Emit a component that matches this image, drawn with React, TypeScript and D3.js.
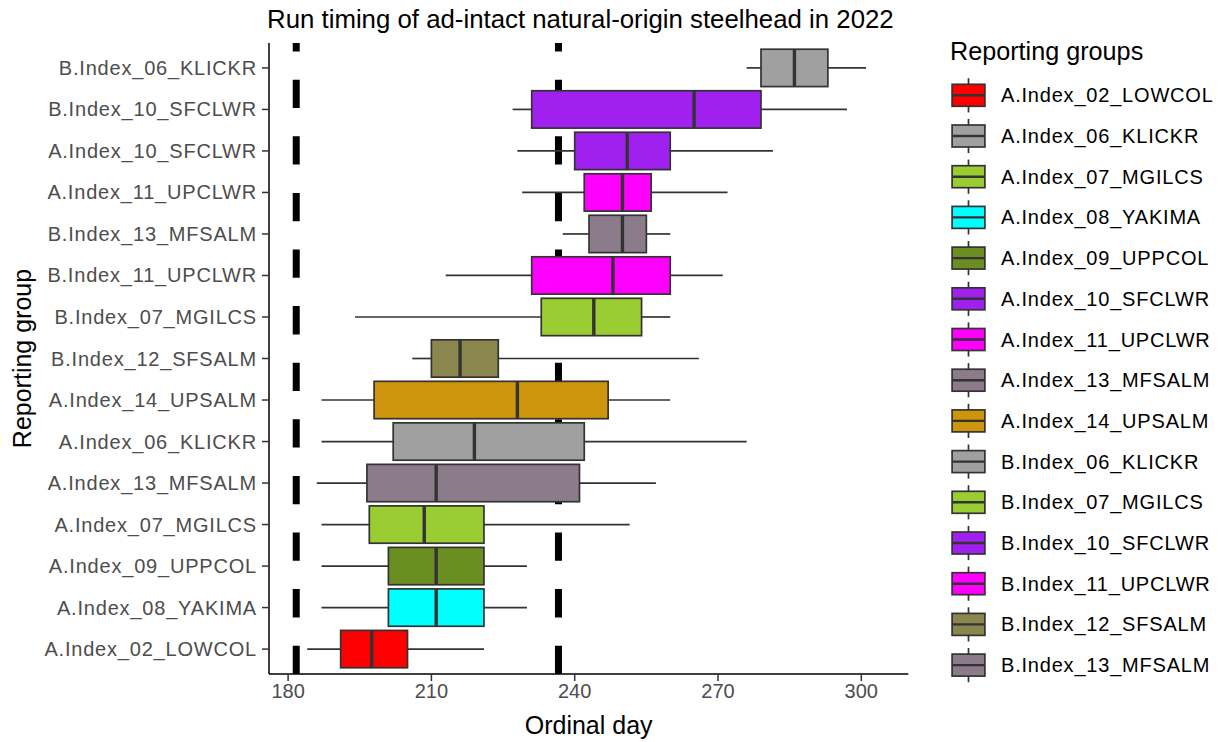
import React from "react";
import * as d3 from "d3";

// Reporting groups, top to bottom on the y axis
const categories = [
  "B.Index_06_KLICKR",
  "B.Index_10_SFCLWR",
  "A.Index_10_SFCLWR",
  "A.Index_11_UPCLWR",
  "B.Index_13_MFSALM",
  "B.Index_11_UPCLWR",
  "B.Index_07_MGILCS",
  "B.Index_12_SFSALM",
  "A.Index_14_UPSALM",
  "A.Index_06_KLICKR",
  "A.Index_13_MFSALM",
  "A.Index_07_MGILCS",
  "A.Index_09_UPPCOL",
  "A.Index_08_YAKIMA",
  "A.Index_02_LOWCOL",
];

// Box statistics (ordinal day), same order as categories
const whiskerLow = [276, 227, 228, 229, 237.5, 213, 194, 206, 187, 187, 186, 187, 187, 187, 184];
const quartile1 = [279, 231, 240, 242, 243, 231, 233, 210, 198, 202, 196.5, 197, 201, 201, 191];
const medians = [286, 265, 251, 250, 250, 248, 244, 216, 228, 219, 211, 208.5, 211, 211, 197.5];
const quartile3 = [293, 279, 260, 256, 255, 260, 254, 224, 247, 242, 241, 221, 221, 221, 205];
const whiskerHigh = [301, 297, 281.5, 272, 260, 271, 260, 266, 260, 276, 257, 251.5, 230, 230, 221];

// Legend entries in order, with their fills
const legendGroups = [
  "A.Index_02_LOWCOL",
  "A.Index_06_KLICKR",
  "A.Index_07_MGILCS",
  "A.Index_08_YAKIMA",
  "A.Index_09_UPPCOL",
  "A.Index_10_SFCLWR",
  "A.Index_11_UPCLWR",
  "A.Index_13_MFSALM",
  "A.Index_14_UPSALM",
  "B.Index_06_KLICKR",
  "B.Index_07_MGILCS",
  "B.Index_10_SFCLWR",
  "B.Index_11_UPCLWR",
  "B.Index_12_SFSALM",
  "B.Index_13_MFSALM",
];
const legendColors = [
  "#FF0000",
  "#A0A0A0",
  "#9ACD32",
  "#00FFFF",
  "#6B8E23",
  "#A020F0",
  "#FF00FF",
  "#8B7B8B",
  "#CD950C",
  "#A0A0A0",
  "#9ACD32",
  "#A020F0",
  "#FF00FF",
  "#8B864E",
  "#8B7B8B",
];

// Reference days shown as dashed vertical lines
const cutoffDays = [181.7, 236.6];

const xTicks = [180, 210, 240, 270, 300];
const xDomain = [176, 309.84];

const W = 1227;
const H = 742;
const panel = { left: 269, right: 908.3, top: 43, bottom: 674 };
const FONT = "'Liberation Sans', Arial, sans-serif";
const OUTLINE = "#333333";
const TICK_TEXT = "#4D4D4D";
const SMALL_SPACING = 0.8;

export default function App() {
  const x = d3.scaleLinear().domain(xDomain).range([panel.left, panel.right]);
  const y = d3
    .scalePoint<string>()
    .domain(categories)
    .range([panel.top, panel.bottom])
    .padding(0.6);
  const boxH = y.step() * 0.9;
  const colorOf = d3.scaleOrdinal<string, string>().domain(legendGroups).range(legendColors);

  const legend = { x: 948, y0: 95.3, step: 40.7, keyW: 41, labelX: 1001 };

  return (
    <svg
      width={W}
      height={H}
      style={{ position: "absolute", left: 0, top: 0, display: "block", background: "#fff" }}
      fontFamily={FONT}
    >
      <defs>
        <clipPath id="panel-clip">
          <rect
            x={panel.left}
            y={panel.top}
            width={panel.right - panel.left}
            height={panel.bottom - panel.top}
          />
        </clipPath>
      </defs>

      {/* title */}
      <text x={panel.left - 2} y={28} fontSize={25.8} fill="#000">
        Run timing of ad-intact natural-origin steelhead in 2022
      </text>

      {/* dashed reference lines */}
      <g clipPath="url(#panel-clip)">
        {cutoffDays.map((d, i) => (
          <line
            key={i}
            x1={x(d)}
            x2={x(d)}
            y1={panel.bottom}
            y2={panel.top}
            stroke="#000"
            strokeWidth={7}
            strokeDasharray="28.3 28.3"
          />
        ))}
      </g>

      {/* boxes */}
      {categories.map((c, i) => {
        const cy = y(c) as number;
        const fill = colorOf(c);
        return (
          <g key={c}>
            <line x1={x(whiskerLow[i])} x2={x(quartile1[i])} y1={cy} y2={cy} stroke={OUTLINE} strokeWidth={1.7} />
            <line x1={x(quartile3[i])} x2={x(whiskerHigh[i])} y1={cy} y2={cy} stroke={OUTLINE} strokeWidth={1.7} />
            <rect
              x={x(quartile1[i])}
              y={cy - boxH / 2}
              width={x(quartile3[i]) - x(quartile1[i])}
              height={boxH}
              fill={fill}
              stroke={OUTLINE}
              strokeWidth={1.7}
            />
            <line
              x1={x(medians[i])}
              x2={x(medians[i])}
              y1={cy - boxH / 2}
              y2={cy + boxH / 2}
              stroke={OUTLINE}
              strokeWidth={3.4}
            />
          </g>
        );
      })}

      {/* axes */}
      <line x1={panel.left} x2={panel.left} y1={panel.top} y2={panel.bottom} stroke="#000" strokeWidth={1.5} />
      <line x1={panel.left} x2={panel.right} y1={panel.bottom} y2={panel.bottom} stroke="#000" strokeWidth={1.5} />
      {categories.map((c) => {
        const cy = y(c) as number;
        return (
          <g key={"yt" + c}>
            <line x1={panel.left - 7} x2={panel.left} y1={cy} y2={cy} stroke="#333" strokeWidth={1.5} />
            <text
              x={panel.left - 12}
              y={cy}
              dy="0.35em"
              textAnchor="end"
              fontSize={20}
              letterSpacing={SMALL_SPACING}
              fill={TICK_TEXT}
            >
              {c}
            </text>
          </g>
        );
      })}
      {xTicks.map((t) => (
        <g key={"xt" + t}>
          <line x1={x(t)} x2={x(t)} y1={panel.bottom} y2={panel.bottom + 7} stroke="#333" strokeWidth={1.5} />
          <text x={x(t)} y={698} textAnchor="middle" fontSize={20} fill={TICK_TEXT}>
            {t}
          </text>
        </g>
      ))}
      <text x={(panel.left + panel.right) / 2} y={734} textAnchor="middle" fontSize={25} fill="#000">
        Ordinal day
      </text>
      <text
        transform={`translate(31, ${(panel.top + panel.bottom) / 2}) rotate(-90)`}
        textAnchor="middle"
        fontSize={25}
        fill="#000"
      >
        Reporting group
      </text>

      {/* legend */}
      <text x={950} y={60} fontSize={25.2} fill="#000">
        Reporting groups
      </text>
      {legendGroups.map((g, i) => {
        const cy = legend.y0 + i * legend.step;
        const kh = legend.step;
        const kx0 = legend.x + legend.keyW * 0.1;
        const kx1 = legend.x + legend.keyW * 0.9;
        const kcx = legend.x + legend.keyW / 2;
        return (
          <g key={"lg" + g}>
            <line x1={kcx} x2={kcx} y1={cy - kh * 0.42} y2={cy + kh * 0.42} stroke={OUTLINE} strokeWidth={1.7} />
            <rect
              x={kx0}
              y={cy - kh * 0.27}
              width={kx1 - kx0}
              height={kh * 0.54}
              fill={legendColors[i]}
              stroke={OUTLINE}
              strokeWidth={1.7}
            />
            <line x1={kx0} x2={kx1} y1={cy} y2={cy} stroke={OUTLINE} strokeWidth={2.4} />
            <text x={legend.labelX} y={cy} dy="0.35em" fontSize={20} letterSpacing={SMALL_SPACING} fill="#000">
              {g}
            </text>
          </g>
        );
      })}
    </svg>
  );
}
